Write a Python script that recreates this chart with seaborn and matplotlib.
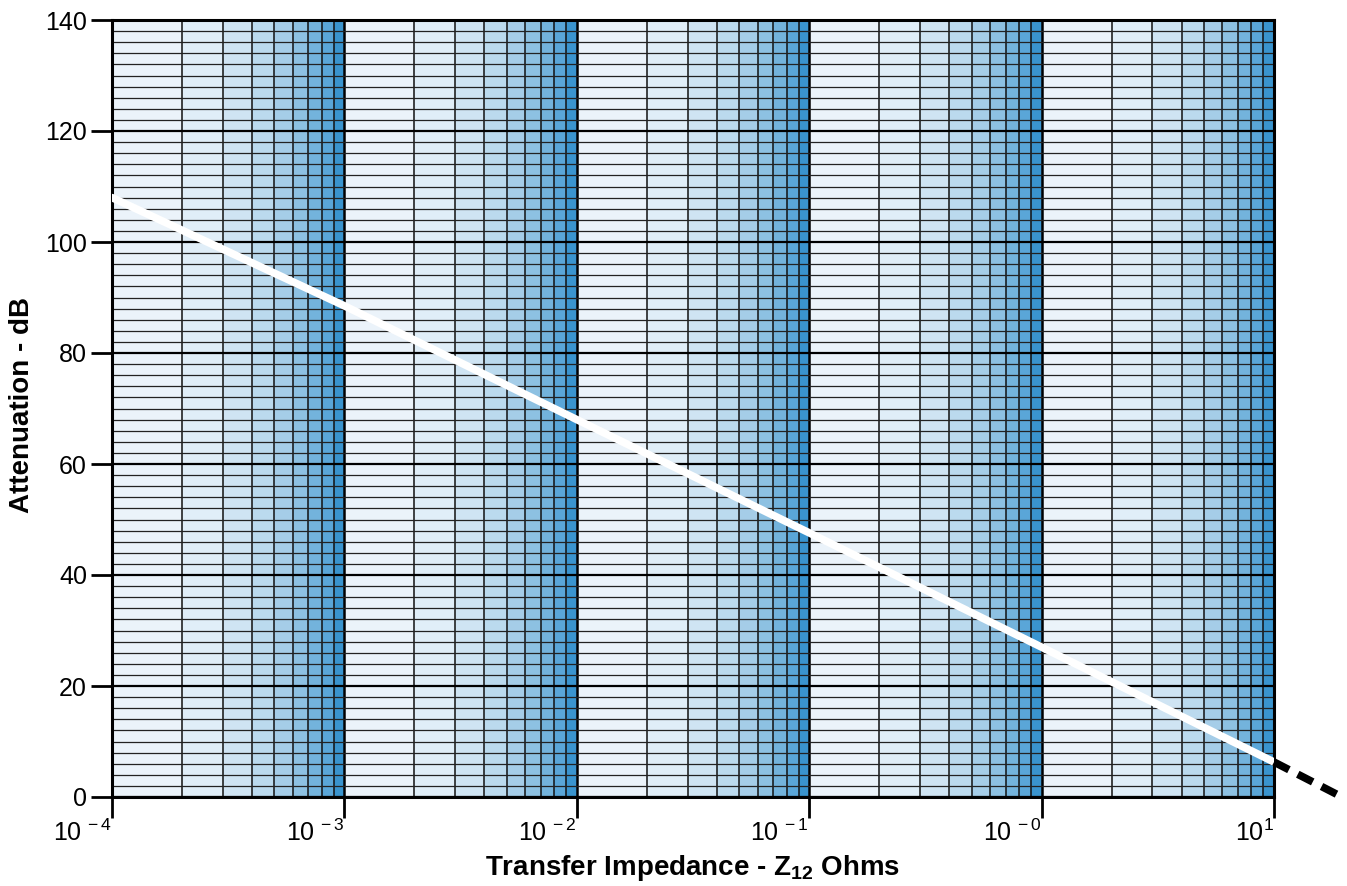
import numpy as np
import pandas as pd
import seaborn as sns
from matplotlib import pyplot as plt

# values
decade_starts = [1e-4, 1e-3, 1e-2, 1e-1, 1e0]
band_multipliers = [1, 2, 3, 4, 5, 6, 7, 8, 9, 10]
impedance_ohms = [1e-4, 1e-3, 1e-2, 1e-1, 1e0, 1e1]
attenuation_db = [108.0, 88.5, 68.0, 47.6, 27.0, 6.3]
ext_impedance = [1e1, 19.0]
ext_attenuation = [6.3, 0.3]
x_tick_values = [1e-4, 1e-3, 1e-2, 1e-1, 1e0, 1e1]
x_tick_labels = ["$10^{\\,-4}$", "$10^{\\,-3}$", "$10^{\\,-2}$", "$10^{\\,-1}$",
                 "$10^{\\,-0}$", "$10^{1}$"]
y_ticks = [0, 20, 40, 60, 80, 100, 120, 140]
y_minor_step = 2

sns.set_theme(style="white")
plt.rcParams["font.family"] = ["Liberation Sans", "DejaVu Sans"]
plt.rcParams["mathtext.fontset"] = "custom"
plt.rcParams["mathtext.rm"] = "Liberation Sans"
plt.rcParams["mathtext.bf"] = "Liberation Sans:bold"

band_colors = sns.color_palette([
    "#EBF3FA", "#E0EEF8", "#CFE4F3", "#BBDAEE", "#A5CDE8",
    "#8DC1E2", "#73B3DC", "#5AA6D8", "#3A94CE",
])

f = plt.figure(figsize=(13.47, 8.86), dpi=100)
ax = f.add_axes([112 / 1347, 1 - 797 / 886, (1274 - 112) / 1347, (797 - 20) / 886])
ax.set_xscale("log")
ax.set_xlim(1e-4, 1e1)
ax.set_ylim(0, 140)

# shaded bands: one colour per 1..10 interval within each decade
for d in decade_starts:
    for i in range(9):
        ax.axvspan(d * band_multipliers[i], d * band_multipliers[i + 1],
                   color=band_colors[i], lw=0, zorder=0)
        if i > 0:
            ax.axvline(d * band_multipliers[i], color="#111111", lw=1.1, zorder=1)
    ax.axvline(d, color="black", lw=1.8, zorder=1)

for y in np.arange(0, 141, y_minor_step):
    if y % 20 == 0:
        ax.axhline(y, color="black", lw=1.6, zorder=1)
    else:
        ax.axhline(y, color="#222222", lw=0.9, zorder=1)

curve = pd.DataFrame({"Z": impedance_ohms, "A": attenuation_db})
sns.lineplot(data=curve, x="Z", y="A", color="white", lw=5.5, ax=ax, zorder=3)
ext = pd.DataFrame({"Z": ext_impedance, "A": ext_attenuation})
sns.lineplot(data=ext, x="Z", y="A", color="black", lw=5.5, ax=ax, zorder=3,
             linestyle=(0, (2.2, 1.3)))
ax.lines[-1].set_clip_on(False)

for s in ax.spines.values():
    s.set_color("black")
    s.set_linewidth(2.2)

ax.set_xticks(x_tick_values)
ax.set_xticklabels(x_tick_labels, ha="right")
ax.xaxis.set_minor_locator(plt.NullLocator())
ax.set_yticks(y_ticks)
ax.tick_params(axis="both", which="major", direction="out", length=15,
               width=2, color="black", labelsize=18, labelcolor="black",
               bottom=True, left=True)
ax.tick_params(axis="x", pad=1)
ax.tick_params(axis="y", pad=3)

ax.set_xlabel("Transfer Impedance - Z$_\\mathbf{12}$ Ohms", fontsize=20,
              fontweight="bold", color="black", va="center")
ax.set_ylabel("Attenuation - dB", fontsize=20, fontweight="bold",
              color="black", va="center")
ax.xaxis.set_label_coords(0.5, -(868 - 797) / 777)
ax.yaxis.set_label_coords((22 - 112) / 1162, (797 - 405) / 777)

f.savefig("out.png", dpi=100)
